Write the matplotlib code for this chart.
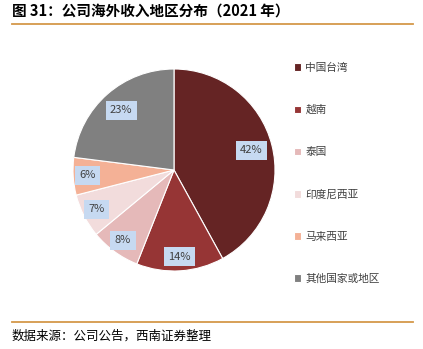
import matplotlib
matplotlib.use("Agg")
import matplotlib.pyplot as plt
import numpy as np
from matplotlib.lines import Line2D

plt.rcParams['font.family'] = ['Noto Sans CJK SC', 'DejaVu Sans']

regions = ["中国台湾", "越南", "泰国", "印度尼西亚", "马来西亚", "其他国家或地区"]
shares = [42, 14, 8, 7, 6, 23]
colors = ["#652424", "#963535", "#E5B9B9", "#F2DCDC", "#F4B196", "#808080"]

title = "图 31：公司海外收入地区分布（2021 年）"
source = "数据来源：公司公告，西南证券整理"

W, H = 423, 349
fig = plt.figure(figsize=(W / 100, H / 100), dpi=100)

# header / footer rules
rule_color = "#D4984A"
fig.add_artist(Line2D([12 / W, 413 / W], [1 - 23.5 / H, 1 - 23.5 / H],
                      color=rule_color, lw=1.3))
fig.add_artist(Line2D([12 / W, 413 / W], [1 - 322 / H, 1 - 322 / H],
                      color=rule_color, lw=1.3))
fig.text(12 / W, 1 - 11 / H, title, fontsize=10.5, fontweight="bold",
         ha="left", va="center", color="#000000")
fig.text(12 / W, 1 - 336 / H, source, fontsize=9, ha="left", va="center",
         color="#000000")

# pie
cx, cy, r = 174, 170, 101
ax = fig.add_axes([(cx - r) / W, 1 - (cy + r) / H, 2 * r / W, 2 * r / H])
wedges, _ = ax.pie(shares, colors=colors, startangle=90, counterclock=False,
                   radius=1, wedgeprops=dict(edgecolor="white", linewidth=0.8))
ax.set_xlim(-1, 1)
ax.set_ylim(-1, 1)
ax.set_aspect("equal")
ax.axis("off")

for w, v in zip(wedges, shares):
    theta = np.deg2rad((w.theta1 + w.theta2) / 2)
    d = 0.79 if v >= 20 else 0.86
    ax.text(d * np.cos(theta), d * np.sin(theta), f"{v}%", ha="center",
            va="center", fontsize=8, color="#404040",
            bbox=dict(boxstyle="square,pad=0.4", fc="#C6D9F1", ec="none"))

fig.legend(wedges, regions, loc="upper left",
           bbox_to_anchor=(284 / W, 1 - 53 / H), frameon=False,
           fontsize=7.7, handlelength=0.7, handleheight=0.7,
           handletextpad=0.4, labelspacing=3.0, labelcolor="#404040")

fig.savefig("out.png", dpi=100)
